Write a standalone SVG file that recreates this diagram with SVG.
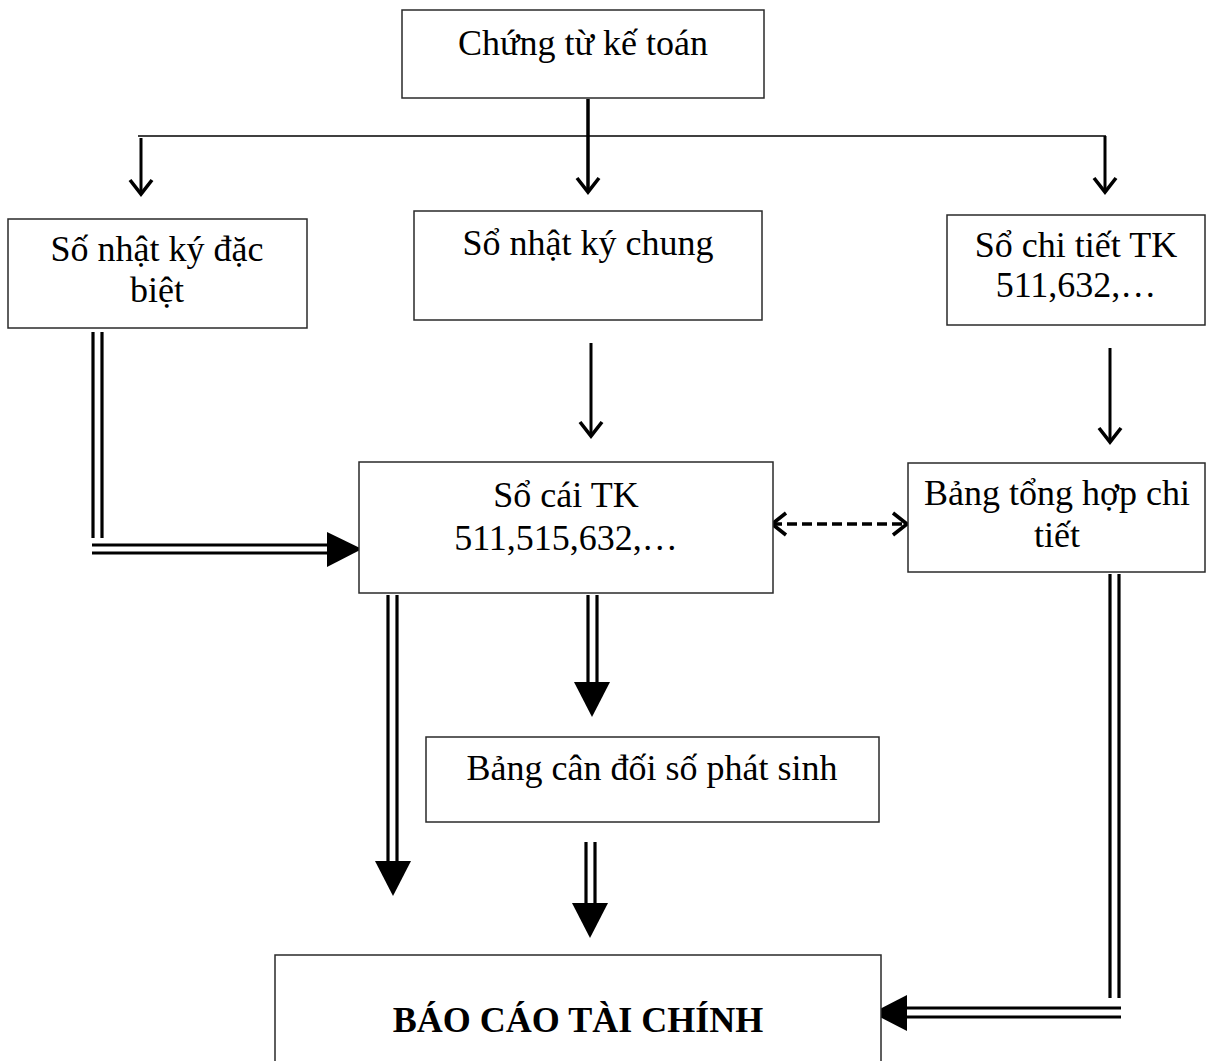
<svg xmlns="http://www.w3.org/2000/svg" width="1206" height="1061" viewBox="0 0 1206 1061">
  <style>
    .box { fill: #ffffff; stroke: #2a2a2a; stroke-width: 1.5; }
    .lbl { font-family: "Liberation Serif", "Times New Roman", serif; font-size: 36px; fill: #000; text-anchor: middle; }
    .bold { font-weight: bold; }
    .thin { fill: none; stroke: #000; stroke-width: 1.6; }
    .arr { fill: none; stroke: #000; stroke-width: 3; marker-end: url(#vhead); }
    .dash { fill: none; stroke: #000; stroke-width: 3.5; stroke-dasharray: 10 5; marker-start: url(#vhead); marker-end: url(#vhead); }
    .dbl { fill: none; stroke: #000; stroke-width: 3.2; }
    .head { fill: #000; stroke: none; }
  </style>
  <defs>
    <!-- open "V" arrowhead for single-line connectors -->
    <marker id="vhead" viewBox="-17 -14 21 28" markerWidth="21" markerHeight="28" refX="0" refY="0" markerUnits="userSpaceOnUse" orient="auto-start-reverse">
      <path d="M-14,-11 L0,0 L-14,11" fill="none" stroke="#000" stroke-width="3.6" stroke-linejoin="miter"/>
    </marker>
  </defs>

  <rect width="1206" height="1061" fill="#ffffff"/>

  <!-- connectors -->
  <g id="connectors">
    <!-- distribution bar from the source documents -->
    <line class="thin" x1="138" y1="136" x2="1106" y2="136"/>
    <line class="arr" x1="141" y1="138" x2="141" y2="194"/>
    <line class="arr" x1="588" y1="99" x2="588" y2="192" style="stroke-width:3.5"/>
    <line class="arr" x1="1105" y1="136" x2="1105" y2="192"/>

    <!-- journals to ledgers -->
    <line class="arr" x1="591" y1="343" x2="591" y2="436"/>
    <line class="arr" x1="1110" y1="348" x2="1110" y2="442"/>

    <!-- reconciliation between ledger and detail summary -->
    <line class="dash" x1="772" y1="524" x2="907" y2="524"/>

    <!-- special journal to ledger (double line) -->
    <line class="dbl" x1="93" y1="332" x2="93" y2="538"/>
    <line class="dbl" x1="102" y1="332" x2="102" y2="538"/>
    <line class="dbl" x1="92" y1="545" x2="328" y2="545"/>
    <line class="dbl" x1="92" y1="553" x2="328" y2="553"/>
    <path class="head" d="M327,532 L362,549 L327,567 Z"/>

    <!-- ledger to financial statements (double line) -->
    <line class="dbl" x1="388" y1="595" x2="388" y2="862"/>
    <line class="dbl" x1="397" y1="595" x2="397" y2="862"/>
    <path class="head" d="M375,861 L411,861 L393,896 Z"/>

    <!-- ledger to trial balance (double line) -->
    <line class="dbl" x1="588" y1="595" x2="588" y2="683"/>
    <line class="dbl" x1="597" y1="595" x2="597" y2="683"/>
    <path class="head" d="M574,682 L610,682 L592,717 Z"/>

    <!-- trial balance to financial statements (double line) -->
    <line class="dbl" x1="586" y1="842" x2="586" y2="904"/>
    <line class="dbl" x1="595" y1="842" x2="595" y2="904"/>
    <path class="head" d="M572,903 L608,903 L590,938 Z"/>

    <!-- detail summary to financial statements (double line) -->
    <line class="dbl" x1="1110" y1="574" x2="1110" y2="998"/>
    <line class="dbl" x1="1119" y1="574" x2="1119" y2="998"/>
    <line class="dbl" x1="1121" y1="1008" x2="906" y2="1008"/>
    <line class="dbl" x1="1121" y1="1017" x2="906" y2="1017"/>
    <path class="head" d="M907,995 L872,1013 L907,1031 Z"/>
  </g>

  <g id="node-chung-tu">
    <rect class="box" x="402" y="10" width="362" height="88"/>
    <text class="lbl" x="583" y="55">Chứng từ kế toán</text>
  </g>

  <g id="node-nhat-ky-dac-biet">
    <rect class="box" x="8" y="219" width="299" height="109"/>
    <text class="lbl" x="157" y="261">Số nhật ký đặc</text>
    <text class="lbl" x="157" y="302">biệt</text>
  </g>

  <g id="node-nhat-ky-chung">
    <rect class="box" x="414" y="211" width="348" height="109"/>
    <text class="lbl" x="588" y="255">Sổ nhật ký chung</text>
  </g>

  <g id="node-so-chi-tiet">
    <rect class="box" x="947" y="215" width="258" height="110"/>
    <text class="lbl" x="1076" y="257">Sổ chi tiết TK</text>
    <text class="lbl" x="1076" y="297">511,632,…</text>
  </g>

  <g id="node-so-cai">
    <rect class="box" x="359" y="462" width="414" height="131"/>
    <text class="lbl" x="566" y="507">Sổ cái TK</text>
    <text class="lbl" x="566" y="550">511,515,632,…</text>
  </g>

  <g id="node-tong-hop-chi-tiet">
    <rect class="box" x="908" y="463" width="297" height="109"/>
    <text class="lbl" x="1057" y="505">Bảng tổng hợp chi</text>
    <text class="lbl" x="1057" y="547">tiết</text>
  </g>

  <g id="node-can-doi">
    <rect class="box" x="426" y="737" width="453" height="85"/>
    <text class="lbl" x="652" y="780">Bảng cân đối số phát sinh</text>
  </g>

  <g id="node-bao-cao">
    <rect class="box" x="275" y="955" width="606" height="120"/>
    <text class="lbl bold" x="578" y="1032">BÁO CÁO TÀI CHÍNH</text>
  </g>
</svg>
